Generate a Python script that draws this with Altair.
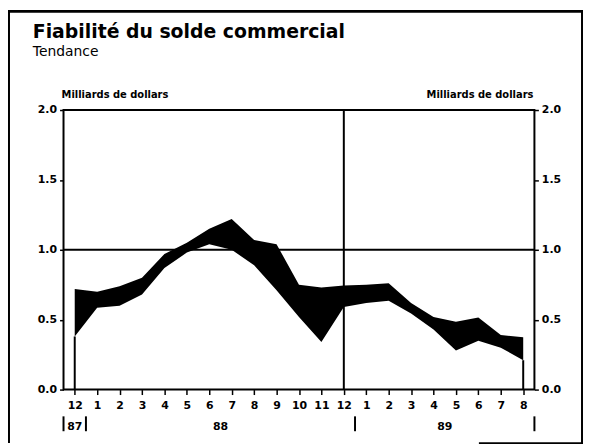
import altair as alt
import pandas as pd

# ---- data ----
months = ["12", "1", "2", "3", "4", "5", "6", "7", "8", "9", "10", "11",
          "12", "1", "2", "3", "4", "5", "6", "7", "8"]
upper = [0.72, 0.70, 0.74, 0.80, 0.97, 1.05, 1.15, 1.22, 1.07, 1.04, 0.75, 0.73,
         0.745, 0.75, 0.76, 0.62, 0.52, 0.485, 0.515, 0.39, 0.375]
lower = [0.38, 0.585, 0.60, 0.68, 0.87, 0.98, 1.04, 1.00, 0.89, 0.71, 0.52, 0.34,
         0.59, 0.62, 0.635, 0.545, 0.43, 0.28, 0.35, 0.30, 0.21]
years = ["87", "88", "89"]
year_pos = [0, 6.5, 16.5]
year_seps = [-0.5, 0.5, 12.5, 20.5]
year_break = [12]
ref_level = [1.0]
y_ticks = [0, 0.5, 1.0, 1.5, 2.0]

title = "Fiabilité du solde commercial"
subtitle = "Tendance"
unit = "Milliards de dollars"

df = pd.DataFrame({"idx": list(range(len(months))), "month": months,
                   "upper": upper, "lower": lower})

W, H = 475, 282
FONT = "DejaVu Sans"

xscale = alt.Scale(domain=[-0.5, 20.5], nice=False, zero=False)
label_js = "[" + ",".join("'%s'" % m for m in months) + "][datum.value]"
xaxis = alt.Axis(values=list(range(len(months))), labelExpr=label_js, title=None,
                 grid=False, domain=False, tickSize=5, tickWidth=1.5, tickColor="black",
                 labelPadding=5, labelFont=FONT, labelFontWeight="bold",
                 labelFontSize=11, labelColor="black", labelAngle=0)
yscale = alt.Scale(domain=[0, 2], nice=False, zero=True)


def ax_y(orient):
    return alt.Axis(orient=orient, values=y_ticks, format=".1f", title=None, grid=False,
                    domain=False, tickSize=4, tickWidth=1.5, tickColor="black",
                    labelPadding=3, labelFont=FONT, labelFontWeight="bold",
                    labelFontSize=11, labelColor="black")


def X(field):
    return alt.X(field + ":Q", scale=xscale, axis=xaxis)


area = alt.Chart(df).mark_area(color="black", opacity=1, interpolate="linear").encode(
    x=X("idx"),
    y=alt.Y("upper:Q", scale=yscale, axis=ax_y("left")),
    y2="lower:Q",
)

right_axis = alt.Chart(df).mark_line(opacity=0).encode(
    x=X("idx"),
    y=alt.Y("upper:Q", scale=yscale, axis=ax_y("right")),
)

edges = alt.Chart(df).transform_filter(
    "datum.idx == 0 || datum.idx == %d" % (len(months) - 1)
).transform_calculate(zero="0").mark_rule(color="black", strokeWidth=2).encode(
    x=X("idx"),
    y=alt.Y("zero:Q", scale=yscale, axis=None),
    y2="lower:Q",
)

hline = alt.Chart(pd.DataFrame({"ref": ref_level})).mark_rule(
    color="black", strokeWidth=2).encode(
    y=alt.Y("ref:Q", scale=yscale, axis=None))

vline = alt.Chart(pd.DataFrame({"b": year_break})).mark_rule(
    color="black", strokeWidth=2).encode(x=X("b"))

year_text = alt.Chart(pd.DataFrame({"pos": year_pos, "yr": years})).mark_text(
    font=FONT, fontWeight="bold", fontSize=11, color="black", baseline="alphabetic"
).encode(x=X("pos"), y=alt.value(323), text="yr:N")

seps = alt.Chart(pd.DataFrame({"s": year_seps})).mark_rule(
    color="black", strokeWidth=2).encode(x=X("s"), y=alt.value(309), y2=alt.value(324))


def txt(s, x, y, size, weight="normal", align="left"):
    return alt.Chart(pd.DataFrame({"t": [s]})).mark_text(
        font=FONT, fontSize=size, fontWeight=weight, color="black", align=align,
        baseline="alphabetic").encode(x=alt.value(x), y=alt.value(y), text="t:N")


t1 = txt(title, -31, -73, 19, "bold")
t2 = txt(subtitle, -31, -54, 14)
u1 = txt(unit, -2, -12, 10, "bold")
u2 = txt(unit, W - 1, -12, 10, "bold", "right")

frame_src = pd.DataFrame({"k": [0]})
f_top = alt.Chart(frame_src).mark_rule(color="black", strokeWidth=3).encode(
    x=alt.value(-56), x2=alt.value(W + 49), y=alt.value(-99.5), detail="k:N")
f_left = alt.Chart(frame_src).mark_rule(color="black", strokeWidth=2).encode(
    x=alt.value(-55), y=alt.value(-101), y2=alt.value(336), detail="k:N")
f_right = alt.Chart(frame_src).mark_rule(color="black", strokeWidth=2).encode(
    x=alt.value(W + 48), y=alt.value(-101), y2=alt.value(336), detail="k:N")
f_bot = alt.Chart(frame_src).mark_rule(color="black", strokeWidth=2).encode(
    x=alt.value(419), x2=alt.value(W + 49), y=alt.value(336), detail="k:N")

chart = alt.layer(
    area, right_axis, edges, hline, vline, year_text, seps,
    t1, t2, u1, u2, f_top, f_left, f_right, f_bot
).resolve_scale(y="independent").properties(
    width=W, height=H,
    autosize=alt.AutoSizeParams(type="none"),
    padding={"left": 56, "top": 101, "right": 49, "bottom": 55},
).configure(background="white").configure_view(stroke="black", strokeWidth=2)

chart.save("out.html", embed_options={"renderer": "svg", "actions": False})
